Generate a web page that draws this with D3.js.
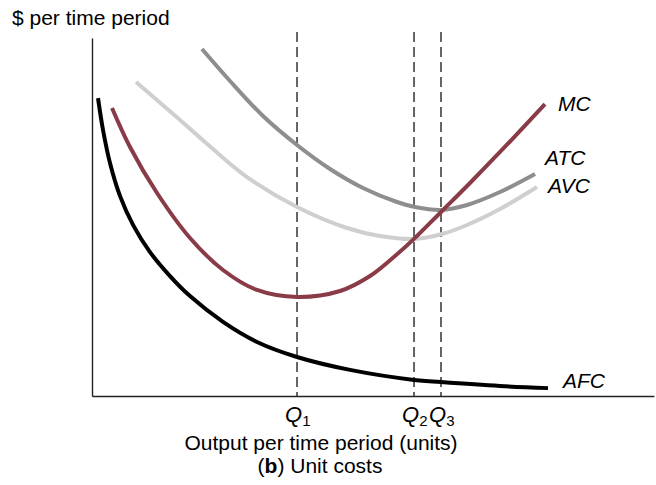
<!DOCTYPE html>
<html>
<head>
<meta charset="utf-8">
<script src="https://cdn.jsdelivr.net/npm/d3@7"></script>
<style>
  html, body { margin: 0; padding: 0; background: #fff; }
  svg { display: block; font-family: "Liberation Sans", Arial, Helvetica, sans-serif; }
</style>
</head>
<body>
<svg id="chart" width="656" height="485"></svg>
<script>
// Quantity (0–100) and cost per unit (0–100) readings for each cost curve
const afcQ = [1.07, 1.96, 3.20, 4.98, 7.30, 10.32, 13.88, 17.44, 23.31, 29.36, 36.48, 45.91, 57.30, 62.10, 72.60, 81.14];
const afcC = [83.2, 74.3, 65.1, 55.9, 47.8, 40.2, 33.5, 27.9, 20.7, 15.1, 10.9, 7.3, 4.5, 3.9, 2.8, 2.2];

const mcQ = [3.56, 6.76, 11.57, 17.44, 23.31, 29.36, 36.48, 44.13, 49.47, 53.91, 57.30, 62.28, 67.26, 72.60, 80.60];
const mcC = [80.45, 69.55, 56.70, 44.13, 35.20, 29.61, 27.65, 29.33, 33.52, 39.11, 43.9, 51.68, 59.50, 68.16, 81.56];

const avcQ = [7.83, 15.66, 21.53, 27.58, 36.48, 45.37, 51.25, 57.30, 62.28, 66.73, 72.60, 79.18];
const avcC = [87.71, 77.09, 68.99, 61.17, 52.79, 46.93, 44.69, 43.85, 45.25, 47.77, 52.23, 58.38];

const atcQ = [19.57, 24.56, 30.43, 36.48, 42.35, 48.22, 54.27, 57.47, 62.10, 66.73, 72.60, 78.83];
const atcC = [96.93, 87.99, 78.21, 70.11, 63.41, 58.10, 54.19, 52.79, 51.96, 53.35, 56.98, 62.01];

// Marked output levels: MC minimum, AVC minimum, ATC minimum
const qNames = ["1", "2", "3"];
const qValues = [36.48, 57.30, 62.10];

const curveNames = ["AFC", "MC", "ATC", "AVC"];
const curveColors = ["#000000", "#8a3b48", "#8e8e8e", "#cfcfcf"];

const yTitle = "$ per time period";
const xTitle = "Output per time period (units)";

// ---- layout ----
const svg = d3.select("#chart");
const x = d3.scaleLinear().domain([0, 100]).range([92, 654]);
const y = d3.scaleLinear().domain([0, 100]).range([396, 38]);

const series = [
  { name: "AFC", q: afcQ, c: afcC, dx: 15, dy: 0 },
  { name: "MC",  q: mcQ,  c: mcC,  dx: 13, dy: 7 },
  { name: "ATC", q: atcQ, c: atcC, dx: 10, dy: -9 },
  { name: "AVC", q: avcQ, c: avcC, dx: 11, dy: 6 }
];

// dashed guides at the marked outputs
svg.append("g").selectAll("line")
  .data(qValues)
  .join("line")
  .attr("x1", d => x(d)).attr("x2", d => x(d))
  .attr("y1", y(101.7)).attr("y2", y(0))
  .attr("stroke", "#000")
  .attr("stroke-width", 1.2)
  .attr("stroke-dasharray", "10,5");

// axes: bare lines, no ticks
svg.append("g")
  .attr("transform", `translate(0,${y(0)})`)
  .call(d3.axisBottom(x).tickValues([]).tickSizeOuter(0))
  .call(g => g.select(".domain").attr("stroke", "#222").attr("stroke-width", 1.4));
svg.append("g")
  .attr("transform", `translate(${x(0)},0)`)
  .call(d3.axisLeft(y).tickValues([]).tickSizeOuter(0))
  .call(g => g.select(".domain").attr("stroke", "#222").attr("stroke-width", 1.4));

// cost curves
const line = d3.line()
  .x(d => x(d[0]))
  .y(d => y(d[1]))
  .curve(d3.curveCatmullRom.alpha(0.5));

// draw lighter curves first so darker ones sit on top
const drawOrder = ["AVC", "ATC", "MC", "AFC"];
drawOrder.forEach(name => {
  const s = series.find(d => d.name === name);
  const pts = s.q.map((q, i) => [q, s.c[i]]);
  svg.append("path")
    .datum(pts)
    .attr("d", line)
    .attr("fill", "none")
    .attr("stroke", curveColors[curveNames.indexOf(name)])
    .attr("stroke-width", 4)
    .attr("stroke-linecap", "butt");
});

// curve labels beside each right end
series.forEach(s => {
  const n = s.q.length - 1;
  svg.append("text")
    .attr("x", x(s.q[n]) + s.dx)
    .attr("y", y(s.c[n]) + s.dy)
    .attr("font-size", 21)
    .attr("font-style", "italic")
    .attr("fill", "#000")
    .text(s.name);
});

// Q labels with subscripts
qValues.forEach((q, i) => {
  const t = svg.append("text")
    .attr("x", x(q) - 12)
    .attr("y", 422)
    .attr("font-size", 22)
    .attr("fill", "#000");
  t.append("tspan").attr("font-style", "italic").text("Q");
  t.append("tspan").attr("font-size", 15).attr("dy", 4).text(qNames[i]);
});

// axis titles
svg.append("text")
  .attr("x", 12).attr("y", 25)
  .attr("font-size", 21)
  .text(yTitle);

svg.append("text")
  .attr("x", 321).attr("y", 450)
  .attr("text-anchor", "middle")
  .attr("font-size", 21)
  .text(xTitle);

const cap = svg.append("text")
  .attr("x", 320).attr("y", 473)
  .attr("text-anchor", "middle")
  .attr("font-size", 21);
cap.append("tspan").text("(");
cap.append("tspan").attr("font-weight", "bold").text("b");
cap.append("tspan").text(") Unit costs");
</script>
</body>
</html>
